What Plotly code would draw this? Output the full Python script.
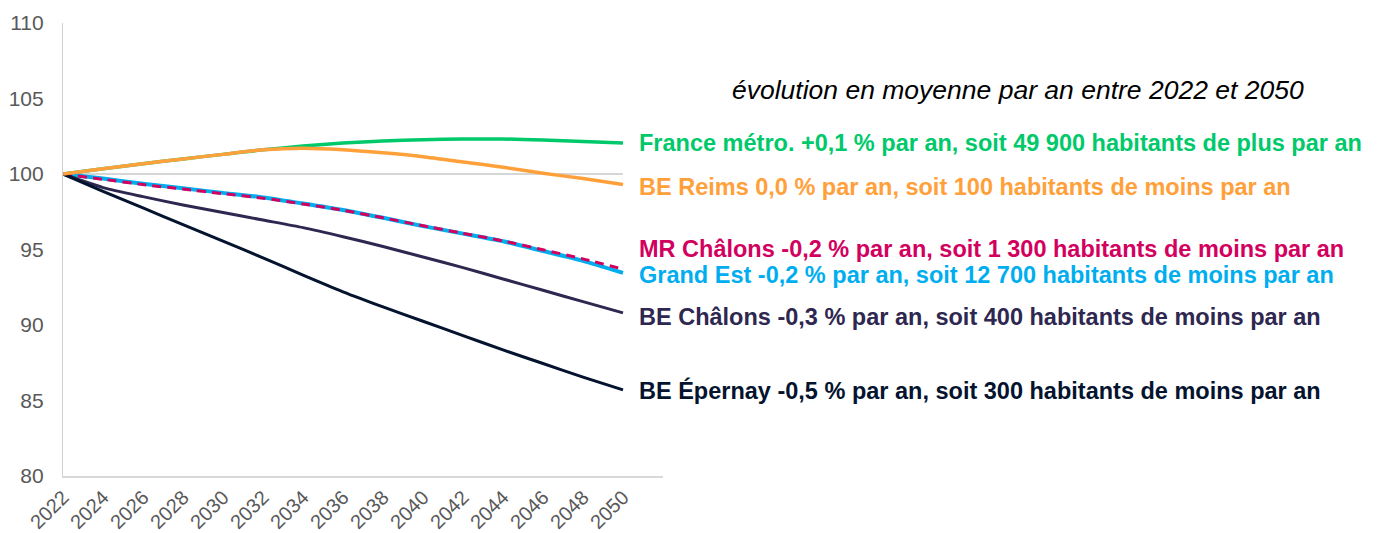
import plotly.graph_objects as go

years = [2022, 2024, 2026, 2028, 2030, 2032, 2034, 2036, 2038, 2040, 2042, 2044, 2046, 2048, 2050]

base_100 = [100] * len(years)
france = [100, 100.35, 100.68, 101.0, 101.3, 101.6, 101.85, 102.05, 102.18, 102.27, 102.32, 102.32, 102.25, 102.15, 102.05]
be_reims = [100, 100.35, 100.68, 101.0, 101.3, 101.6, 101.7, 101.6, 101.4, 101.15, 100.8, 100.45, 100.05, 99.7, 99.3]
grand_est = [100, 99.7, 99.35, 99.05, 98.75, 98.45, 98.05, 97.62, 97.1, 96.55, 96.05, 95.55, 94.9, 94.25, 93.45]
mr_chalons = [100, 99.65, 99.3, 99.0, 98.7, 98.4, 98.02, 97.6, 97.1, 96.57, 96.07, 95.57, 94.98, 94.38, 93.7]
be_chalons = [100, 99.1, 98.5, 97.95, 97.45, 96.95, 96.45, 95.85, 95.2, 94.5, 93.8, 93.05, 92.3, 91.55, 90.8]
be_epernay = [100, 98.85, 97.75, 96.65, 95.55, 94.45, 93.3, 92.2, 91.2, 90.25, 89.3, 88.35, 87.45, 86.55, 85.7]

labels = {
    "France": "France métro. +0,1 % par an, soit 49 900 habitants de plus par an",
    "Reims": "BE Reims 0,0 % par an, soit 100 habitants de moins par an",
    "MR": "MR Châlons -0,2 % par an, soit 1 300 habitants de moins par an",
    "GE": "Grand Est -0,2 % par an, soit 12 700 habitants de moins par an",
    "BEC": "BE Châlons -0,3 % par an, soit 400 habitants de moins par an",
    "EP": "BE Épernay -0,5 % par an, soit 300 habitants de moins par an",
}
title_text = "évolution en moyenne par an entre 2022 et 2050"
y_ticks = [80, 85, 90, 95, 100, 105, 110]
x_ticks = list(range(2022, 2051, 2))

C_GREEN = "#00C96B"
C_ORANGE = "#FFA03B"
C_MAGENTA = "#D2005E"
C_CYAN = "#00AEEF"
C_PURPLE = "#2E2750"
C_NAVY = "#04132E"

FONT = "Liberation Sans, Arial, sans-serif"

fig = go.Figure()
fig.add_trace(go.Scatter(x=years, y=base_100, mode="lines", line=dict(color="#C8C8C8", width=1.5), hoverinfo="skip"))

series = [
    ("France", france, C_GREEN, 3.5, "solid"),
    ("Reims", be_reims, C_ORANGE, 3.5, "solid"),
    ("MR", mr_chalons, C_MAGENTA, 3, "9px,6px"),
    ("GE", grand_est, C_CYAN, 4, "solid"),
    ("BEC", be_chalons, C_PURPLE, 3, "solid"),
    ("EP", be_epernay, C_NAVY, 3, "solid"),
]
order = ["France", "GE", "MR", "BEC", "EP", "Reims"]
smap = {s[0]: s for s in series}
for key in order:
    k, vals, col, w, dash = smap[key]
    fig.add_trace(go.Scatter(x=years, y=vals, mode="lines", name=labels[k],
                             line=dict(color=col, width=w, dash=dash, shape="spline", smoothing=0.6)))

label_shift = {"France": 0, "Reims": -2, "MR": 20, "GE": -2, "BEC": -4, "EP": -1}
for k, vals, col, w, dash in series:
    fig.add_annotation(x=years[-1], y=vals[-1], xref="x", yref="y", text=labels[k],
                       showarrow=False, xanchor="left", yanchor="middle", xshift=14,
                       yshift=label_shift[k],
                       font=dict(family=FONT, size=23.5, color=col, weight="bold"))

fig.add_annotation(x=(1018 - 63) / 600, y=(476 - 90) / 453, xref="paper", yref="paper",
                   text=title_text, showarrow=False, xanchor="center", yanchor="middle",
                   font=dict(family=FONT, size=26.5, color="#000000", style="italic"))

# the page body adds an 8px offset, so the figure is 8px smaller and margins are reduced by 8px
fig.update_layout(
    width=1373, height=525,
    margin=dict(l=55, r=718, t=15, b=57),
    paper_bgcolor="white", plot_bgcolor="white",
    showlegend=False,
    font=dict(family=FONT, size=20, color="#595959"),
)
fig.update_xaxes(range=[2022, 2052], tickvals=x_ticks, ticktext=[str(v) for v in x_ticks],
                 tickangle=-45, showgrid=False, zeroline=False, showline=True, automargin=False,
                 linecolor="#D9D9D9", linewidth=1.5, ticks="", tickfont=dict(size=20, color="#595959"))
fig.update_yaxes(range=[80, 110], tickvals=y_ticks, showgrid=False, zeroline=False, showline=True,
                 automargin=False, linecolor="#D0D0D0", linewidth=1.2, ticks="", ticklabelstandoff=14,
                 tickfont=dict(size=21, color="#595959"))

fig.write_html("out.html")
